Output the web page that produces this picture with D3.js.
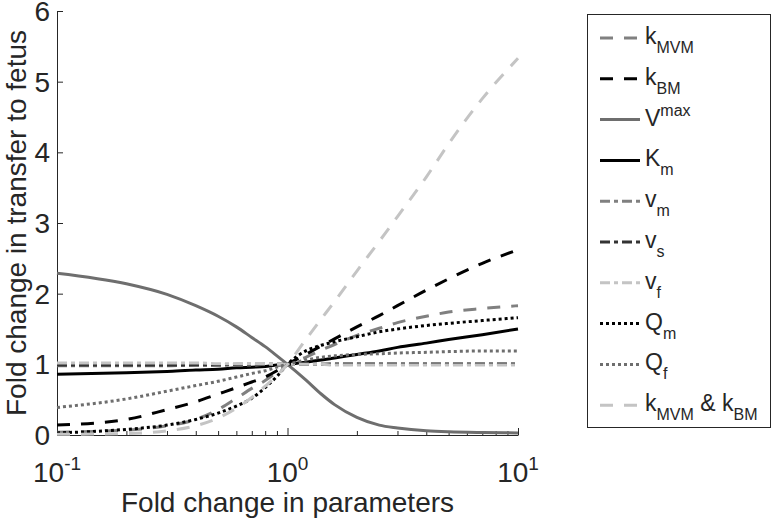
<!DOCTYPE html>
<html>
<head>
<meta charset="utf-8">
<script src="https://cdn.jsdelivr.net/npm/d3@7"></script>
<style>
  body { margin: 0; background: #fff; }
  svg text { font-family: "Liberation Sans", Arial, sans-serif; fill: #262626; }
</style>
</head>
<body>
<svg id="chart" width="773" height="523"></svg>
<script>
// x values (fold change of the parameter)
const folds = [0.1, 0.2, 0.3, 0.4, 0.5, 0.6, 0.7, 0.8, 0.9, 1, 1.2, 1.4, 1.6, 2, 2.5, 3, 4, 5, 7, 10];

// fold change in transfer to fetus, one array per parameter
const kMVM   = [0.04, 0.07, 0.13, 0.22, 0.36, 0.52, 0.66, 0.77, 0.89, 1, 1.10, 1.20, 1.28, 1.41, 1.51, 1.59, 1.68, 1.74, 1.79, 1.83];
const kBM    = [0.14, 0.22, 0.36, 0.47, 0.58, 0.67, 0.75, 0.82, 0.91, 1, 1.14, 1.26, 1.36, 1.53, 1.69, 1.83, 2.05, 2.21, 2.43, 2.62];
const Vmax   = [2.29, 2.14, 1.99, 1.83, 1.68, 1.53, 1.38, 1.25, 1.12, 1, 0.78, 0.58, 0.43, 0.25, 0.14, 0.10, 0.06, 0.045, 0.035, 0.03];
const Km     = [0.86, 0.88, 0.90, 0.92, 0.93, 0.95, 0.96, 0.97, 0.99, 1, 1.03, 1.06, 1.09, 1.14, 1.19, 1.24, 1.30, 1.35, 1.42, 1.50];
const vm     = [0.98, 0.98, 0.98, 0.99, 0.99, 0.99, 0.99, 1.00, 1.00, 1, 1.00, 1.00, 1.01, 1.01, 1.01, 1.01, 1.01, 1.01, 1.01, 1.01];
const vs     = [0.99, 0.99, 0.99, 0.99, 0.99, 1.00, 1.00, 1.00, 1.00, 1, 1.00, 1.00, 1.00, 1.00, 1.00, 1.00, 1.00, 1.00, 1.00, 1.00];
const vf     = [1.02, 1.02, 1.02, 1.02, 1.01, 1.01, 1.01, 1.01, 1.00, 1, 1.00, 1.00, 0.99, 0.99, 0.99, 0.99, 0.99, 0.99, 0.99, 0.99];
const Qm     = [0.03, 0.08, 0.14, 0.22, 0.31, 0.41, 0.52, 0.67, 0.83, 1, 1.19, 1.27, 1.32, 1.39, 1.46, 1.50, 1.55, 1.58, 1.62, 1.66];
const Qf     = [0.39, 0.51, 0.62, 0.70, 0.76, 0.82, 0.87, 0.91, 0.96, 1, 1.06, 1.10, 1.12, 1.14, 1.15, 1.16, 1.17, 1.18, 1.19, 1.19];
const kBoth  = [0.01, 0.02, 0.06, 0.13, 0.24, 0.38, 0.53, 0.69, 0.84, 1, 1.35, 1.64, 1.89, 2.32, 2.74, 3.09, 3.65, 4.12, 4.76, 5.33];

const yTicks = [0, 1, 2, 3, 4, 5, 6];
const xMajor = [0.1, 1, 10];
const xExp = ["-1", "0", "1"];

// legend label parts: [text, "" | "sub" | "sup"]
const series = [
  { label: [["k", ""], ["MVM", "sub"]], values: kMVM, color: "#808080", dash: "13,11" },
  { label: [["k", ""], ["BM", "sub"]], values: kBM, color: "#000000", dash: "13,11" },
  { label: [["V", ""], ["max", "sup"]], values: Vmax, color: "#6e6e6e", dash: null },
  { label: [["K", ""], ["m", "sub"]], values: Km, color: "#000000", dash: null },
  { label: [["v", ""], ["m", "sub"]], values: vm, color: "#808080", dash: "10,4,4,4" },
  { label: [["v", ""], ["s", "sub"]], values: vs, color: "#333333", dash: "10,4,4,4" },
  { label: [["v", ""], ["f", "sub"]], values: vf, color: "#c4c4c4", dash: "10,4,4,4" },
  { label: [["Q", ""], ["m", "sub"]], values: Qm, color: "#000000", dash: "3,3" },
  { label: [["Q", ""], ["f", "sub"]], values: Qf, color: "#6e6e6e", dash: "3,3" },
  { label: [["k", ""], ["MVM", "sub"], [" & k", ""], ["BM", "sub"]], values: kBoth, color: "#c4c4c4", dash: "13,11" }
];

const plot = { left: 57, right: 518, top: 11, bottom: 435 };

const svg = d3.select("#chart");

const x = d3.scaleLog().domain([0.1, 10]).range([plot.left, plot.right]);
const y = d3.scaleLinear().domain([0, 6]).range([plot.bottom, plot.top]);

// minor ticks for the log axis
const xMinor = [];
[0.1, 1].forEach(d => { for (let k = 2; k <= 9; k++) xMinor.push(d * k); });

// Axes
svg.append("g")
  .attr("transform", `translate(0,${plot.bottom})`)
  .call(d3.axisBottom(x).tickValues(xMinor).tickSize(-4).tickFormat(""))
  .call(g => g.select(".domain").remove())
  .call(g => g.selectAll(".tick line").attr("stroke", "#262626"));

svg.append("g")
  .attr("transform", `translate(0,${plot.bottom})`)
  .call(d3.axisBottom(x).tickValues(xMajor).tickSizeInner(-7).tickSizeOuter(0).tickFormat(""))
  .call(g => g.select(".domain").attr("stroke", "#262626"))
  .call(g => g.selectAll(".tick line").attr("stroke", "#262626"));

svg.append("g")
  .attr("transform", `translate(${plot.left},0)`)
  .call(d3.axisLeft(y).tickValues(yTicks).tickSizeInner(-6).tickSizeOuter(0).tickFormat(""))
  .call(g => g.select(".domain").attr("stroke", "#262626"))
  .call(g => g.selectAll(".tick line").attr("stroke", "#262626"));

// tick labels
svg.append("g").selectAll("text")
  .data(yTicks)
  .join("text")
  .attr("x", plot.left - 7)
  .attr("y", d => y(d) + 10)
  .attr("text-anchor", "end")
  .attr("font-size", 28)
  .text(d => d);

const xl = svg.append("g").selectAll("text")
  .data(xMajor)
  .join("text")
  .attr("x", d => x(d))
  .attr("y", plot.bottom + 47)
  .attr("text-anchor", "middle")
  .attr("font-size", 28);
xl.append("tspan").text("10");
xl.append("tspan").attr("dy", -12).attr("font-size", 19).text((d, i) => xExp[i]);

// axis titles
svg.append("text")
  .attr("x", (plot.left + plot.right) / 2)
  .attr("y", 512)
  .attr("text-anchor", "middle")
  .attr("font-size", 28)
  .text("Fold change in parameters");

svg.append("text")
  .attr("transform", `translate(26,${(plot.top + plot.bottom) / 2}) rotate(-90)`)
  .attr("text-anchor", "middle")
  .attr("font-size", 28)
  .text("Fold change in transfer to fetus");

// Lines
const line = d3.line()
  .x(d => x(d[0]))
  .y(d => y(d[1]))
  .curve(d3.curveMonotoneX);

svg.append("g").selectAll("path")
  .data(series)
  .join("path")
  .attr("d", s => line(folds.map((f, i) => [f, s.values[i]])))
  .attr("fill", "none")
  .attr("stroke", s => s.color)
  .attr("stroke-width", 3)
  .attr("stroke-dasharray", s => s.dash);

// Legend
const legend = svg.append("g");
legend.append("rect")
  .attr("x", 587.5).attr("y", 14.5)
  .attr("width", 183).attr("height", 413)
  .attr("fill", "#fff")
  .attr("stroke", "#262626")
  .attr("stroke-width", 1);

const rows = legend.selectAll("g.row")
  .data(series)
  .join("g")
  .attr("class", "row")
  .attr("transform", (d, i) => `translate(0,${38 + i * 40.8})`);

rows.append("line")
  .attr("x1", 600).attr("x2", 640)
  .attr("y1", 0).attr("y2", 0)
  .attr("stroke", d => d.color)
  .attr("stroke-width", 3)
  .attr("stroke-dasharray", d => d.dash);

rows.append("text")
  .attr("x", 645)
  .attr("y", 6)
  .attr("font-size", 23)
  .each(function (d) {
    const t = d3.select(this);
    let shift = 0;
    d.label.forEach(([str, kind]) => {
      const sp = t.append("tspan").text(str);
      const target = kind === "sub" ? 9 : kind === "sup" ? -10 : 0;
      sp.attr("dy", target - shift);
      shift = target;
      if (kind) sp.attr("font-size", 16);
    });
  });
</script>
</body>
</html>
